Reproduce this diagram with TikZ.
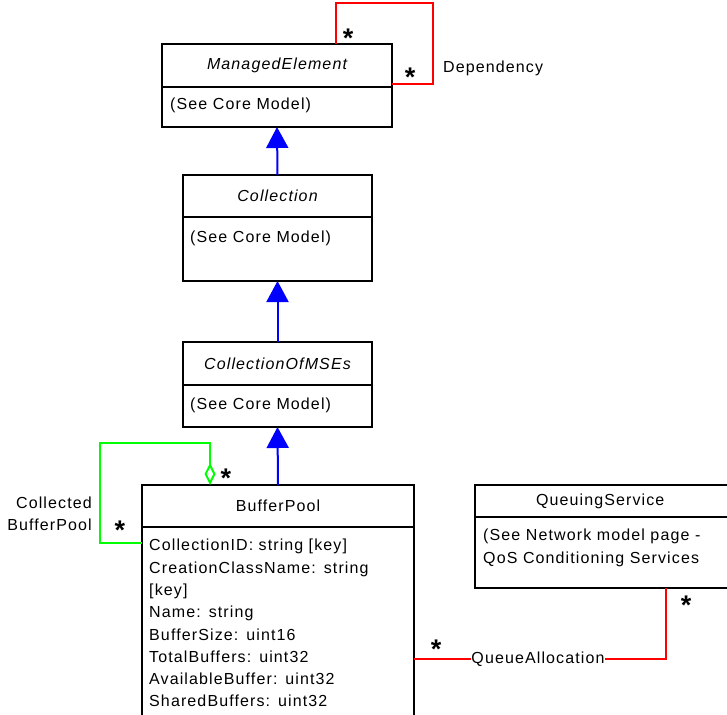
\documentclass[tikz,border=0pt]{standalone}
\usepackage{fontspec}
\setmainfont[LetterSpace=7]{Liberation Sans}
\usepackage{tikz}
\usetikzlibrary{arrows.meta}
\usetikzlibrary{positioning}

\begin{document}
\begin{tikzpicture}[x=1pt, y=-1pt,
	every node/.style={font=\fontsize{16}{22.3}\selectfont},
	titlebox/.style={draw, line width=2pt, rectangle, inner sep=0pt, outer sep=0pt, anchor=north west},
	bodybox/.style={draw, line width=2pt, rectangle, inner sep=0pt, outer sep=0pt, anchor=north west},
	bodytext/.style={anchor=north west, align=left, inner sep=0pt},
	genline/.style={draw=blue, line width=2pt, -{Triangle[length=21pt, width=22pt]}},
	depline/.style={draw=red, line width=2pt},
	aggline/.style={draw=green, line width=2pt, {Diamond[open, length=22pt, width=11pt]}-},
	starmark/.style={font=\fontsize{27}{27}\bfseries, inner sep=0pt},
	lbl/.style={inner sep=0pt}]
	\useasboundingbox (0,0) rectangle (727,714);
	\clip (0,0) rectangle (727,714);

	% class boxes
	\node[titlebox, minimum width=230pt, minimum height=43pt] (meT) at (162,44) {\itshape ManagedElement};
	\node[bodybox, minimum width=230pt, minimum height=40pt] (meB) at (meT.south west) {};
	\node[bodytext] (meA) at (170,98) {(See Core Model)};

	\node[titlebox, minimum width=189pt, minimum height=42pt] (colT) at (183,175) {\itshape Collection};
	\node[bodybox, minimum width=189pt, minimum height=64pt] (colB) at (colT.south west) {};
	\node[bodytext] (colA) at (190,231) {(See Core Model)};

	\node[titlebox, minimum width=189pt, minimum height=43pt] (mseT) at (183,342) {\itshape CollectionOfMSEs};
	\node[bodybox, minimum width=189pt, minimum height=42pt] (mseB) at (mseT.south west) {};
	\node[bodytext] (mseA) at (190,398) {(See Core Model)};

	\node[titlebox, minimum width=272pt, minimum height=42pt] (bpT) at (142,485) {BufferPool};
	\node[bodybox, minimum width=272pt, minimum height=230pt] (bpB) at (bpT.south west) {};
	\node[bodytext, text width=250pt] (bpA) at (149,539) {%
		CollectionID: string {[key]}\\
		CreationClassName: string\\
		{[key]}\\
		Name: string\\
		BufferSize: uint16\\
		TotalBuffers: uint32\\
		AvailableBuffer: uint32\\
		SharedBuffers: uint32};

	\node[titlebox, minimum width=270pt, minimum height=32pt, text width=252pt, align=left] (qsT) at (475,485) {\hspace*{52pt}QueuingService};
	\node[bodybox, minimum width=270pt, minimum height=71pt] (qsB) at (qsT.south west) {};
	\node[bodytext] (qsA) at (483,529) {(See Network model page -\\QoS Conditioning Services};

	% inheritance
	\draw[genline] (colT.north) -- (meB.south);
	\draw[genline] (mseT.north) -- (colB.south);
	\draw[genline] (bpT.north) -- (mseB.south);

	% Dependency
	\coordinate (dep1) at (433,3);
	\coordinate (dep2) at (433,84);
	\draw[depline] ([xshift=174pt]meT.north west) |- (dep1) -- (dep2) -- (meT.east |- dep2);
	\node[lbl, anchor=west] (depL) at (443,68) {Dependency};
	\node[starmark] (depS1) at (348,38) {*};
	\node[starmark] (depS2) at (410,77) {*};

	% CollectedBufferPool
	\coordinate (agg1) at (100,443);
	\coordinate (agg2) at (100,543);
	\draw[aggline] ([xshift=68pt]bpT.north west) |- (agg1) -- (agg2) -- (bpB.west |- agg2);
	\node[lbl, anchor=east, align=right] (aggL) at (92,514) {Collected\\BufferPool};
	\node[starmark] (aggS1) at (226,478) {*};
	\node[starmark] (aggS2) at (120,530) {*};

	% QueueAllocation
	\node[lbl] (qaL) at (538,659) {QueueAllocation};
	\draw[depline] (bpB.east |- qaL.west) -- (qaL.west);
	\draw[depline] (qaL.east) -| ([xshift=191pt]qsB.south west);
	\node[starmark] (qaS1) at (436,649) {*};
	\node[starmark] (qaS2) at (686,605) {*};
\end{tikzpicture}
\end{document}
